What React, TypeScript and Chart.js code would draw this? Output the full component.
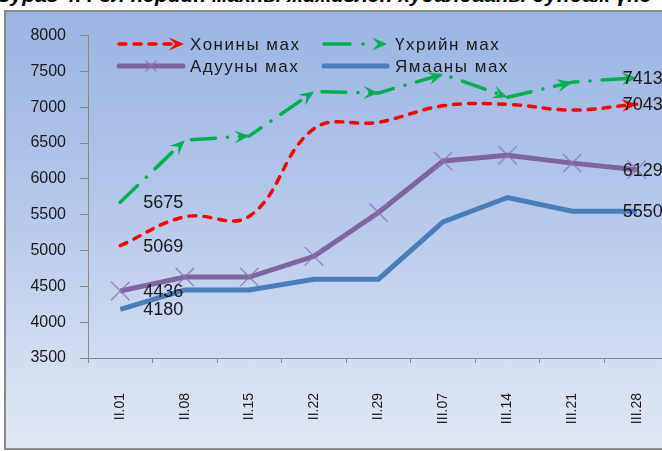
import React, { useEffect, useRef } from "react";
import { Chart, registerables } from "chart.js";

Chart.register(...registerables);

const categories = ["II.01", "II.08", "II.15", "II.22", "II.29", "III.07", "III.14", "III.21", "III.28"];
const muttonPrices = [5069, 5470, 5480, 6700, 6790, 7020, 7040, 6960, 7043];
const beefPrices = [5675, 6540, 6600, 7220, 7200, 7460, 7140, 7350, 7413];
const horsePrices = [4436, 4630, 4630, 4920, 5530, 6250, 6330, 6220, 6129];
const goatPrices = [4180, 4450, 4450, 4600, 4600, 5400, 5740, 5550, 5550];
const seriesNames = ["Хонины мах", "Үхрийн мах", "Адууны мах", "Ямааны мах"];
const yMin = 3500;
const yMax = 8000;
const yStep = 500;
const titleText = "Зураг 4. Гол нэрийн махны жижиглэн худалдааны дундаж үнэ";

const RED = "#ff0000";
const GREEN = "#00b050";
const PURPLE = "#8064a2";
const BLUE = "#4a7ebb";
const FONT = '"Liberation Sans", Arial, sans-serif';
const TEXT = "#1a1a1a";

function arrowHead(ctx: CanvasRenderingContext2D, x: number, y: number, ang: number, len: number, half: number, color: string) {
  ctx.save();
  ctx.translate(x, y);
  ctx.rotate(ang);
  ctx.beginPath();
  ctx.moveTo(0, 0);
  ctx.lineTo(-len, -half);
  ctx.lineTo(-len * 0.6, 0);
  ctx.lineTo(-len, half);
  ctx.closePath();
  ctx.fillStyle = color;
  ctx.fill();
  ctx.restore();
}

function drawCross(ctx: CanvasRenderingContext2D, x: number, y: number, r: number, color: string) {
  ctx.save();
  ctx.strokeStyle = color;
  ctx.lineWidth = 1.5;
  ctx.beginPath();
  ctx.moveTo(x - r, y - r);
  ctx.lineTo(x + r, y + r);
  ctx.moveTo(x - r, y + r);
  ctx.lineTo(x + r, y - r);
  ctx.stroke();
  ctx.restore();
}

const overlayPlugin = {
  id: "overlay",
  afterDatasetsDraw(chart: any) {
    const ctx: CanvasRenderingContext2D = chart.ctx;
    const redPts = chart.getDatasetMeta(0).data;
    const last = redPts[redPts.length - 1];
    let px = last.cp1x, py = last.cp1y;
    if (px === undefined || (Math.abs(px - last.x) < 0.5 && Math.abs(py - last.y) < 0.5)) {
      px = redPts[redPts.length - 2].x;
      py = redPts[redPts.length - 2].y;
    }
    arrowHead(ctx, last.x, last.y, Math.atan2(last.y - py, last.x - px), 15, 6.5, RED);
    const gPts = chart.getDatasetMeta(1).data;
    for (let i = 1; i < gPts.length; i++) {
      const a = gPts[i - 1], b = gPts[i];
      arrowHead(ctx, b.x, b.y, Math.atan2(b.y - a.y, b.x - a.x), 15, 6.5, GREEN);
    }
    ctx.save();
    ctx.font = `18px ${FONT}`;
    ctx.fillStyle = TEXT;
    ctx.textBaseline = "middle";
    ctx.textAlign = "left";
    for (let d = 0; d < 4; d++) {
      const pts = chart.getDatasetMeta(d).data;
      const vals = chart.data.datasets[d].data;
      const f = pts[0];
      const l = pts[pts.length - 1];
      ctx.fillText(String(vals[0]), f.x + 23, f.y + 1);
      ctx.fillText(String(vals[vals.length - 1]), l.x - 14, l.y + 1);
    }
    ctx.restore();
  },
  afterDraw(chart: any) {
    const ctx: CanvasRenderingContext2D = chart.ctx;
    ctx.save();
    const r1 = 32, r2 = 54;
    ctx.strokeStyle = RED;
    ctx.lineWidth = 3.5;
    ctx.lineCap = "round";
    ctx.setLineDash([7, 8]);
    ctx.beginPath();
    ctx.moveTo(113, r1);
    ctx.lineTo(168, r1);
    ctx.stroke();
    ctx.setLineDash([]);
    arrowHead(ctx, 178, r1, 0, 15, 6.5, RED);
    ctx.strokeStyle = GREEN;
    ctx.beginPath();
    ctx.moveTo(318, r1);
    ctx.lineTo(344, r1);
    ctx.stroke();
    ctx.beginPath();
    ctx.arc(357, r1, 1.8, 0, Math.PI * 2);
    ctx.fillStyle = GREEN;
    ctx.fill();
    arrowHead(ctx, 381, r1, 0, 15, 6.5, GREEN);
    ctx.strokeStyle = PURPLE;
    ctx.lineWidth = 5;
    ctx.beginPath();
    ctx.moveTo(113, r2);
    ctx.lineTo(177, r2);
    ctx.stroke();
    drawCross(ctx, 145, r2, 5, "rgba(140,115,175,0.8)");
    ctx.strokeStyle = BLUE;
    ctx.lineWidth = 5;
    ctx.beginPath();
    ctx.moveTo(318, r2);
    ctx.lineTo(381, r2);
    ctx.stroke();
    ctx.font = `17px ${FONT}`;
    (ctx as any).letterSpacing = "1.5px";
    ctx.fillStyle = TEXT;
    ctx.textBaseline = "middle";
    ctx.textAlign = "left";
    ctx.fillText(seriesNames[0], 184, r1 + 1);
    ctx.fillText(seriesNames[1], 389, r1 + 1);
    ctx.fillText(seriesNames[2], 184, r2 + 1);
    ctx.fillText(seriesNames[3], 389, r2 + 1);
    ctx.restore();
  },
};

export default function App() {
  const canvasRef = useRef<HTMLCanvasElement | null>(null);

  useEffect(() => {
    if (!canvasRef.current) return;
    const chart = new Chart(canvasRef.current, {
      type: "line",
      data: {
        labels: categories,
        datasets: [
          {
            label: seriesNames[0],
            data: muttonPrices,
            borderColor: RED,
            borderWidth: 3.5,
            borderDash: [7, 8],
            borderCapStyle: "round",
            tension: 0.4,
            pointRadius: 0,
            fill: false,
          },
          {
            label: seriesNames[1],
            data: beefPrices,
            borderColor: GREEN,
            borderWidth: 3.5,
            borderDash: [24, 12, 0.1, 12],
            borderCapStyle: "round",
            tension: 0,
            pointRadius: 0,
            fill: false,
          },
          {
            label: seriesNames[2],
            data: horsePrices,
            borderColor: PURPLE,
            borderWidth: 5,
            tension: 0,
            pointStyle: "crossRot",
            pointRadius: 13,
            pointBorderColor: "rgba(140,115,175,0.75)",
            pointBackgroundColor: "rgba(0,0,0,0)",
            pointBorderWidth: 1.5,
            fill: false,
          },
          {
            label: seriesNames[3],
            data: goatPrices,
            borderColor: BLUE,
            borderWidth: 5,
            tension: 0,
            pointRadius: 0,
            fill: false,
          },
        ],
      },
      options: {
        responsive: false,
        animation: false,
        devicePixelRatio: 1,
        layout: { padding: { top: 13, right: 37, left: 0, bottom: 0 } },
        plugins: { legend: { display: false }, tooltip: { enabled: false } },
        scales: {
          x: {
            type: "category",
            offset: true,
            grid: { offset: true, drawOnChartArea: false, drawTicks: true, tickLength: 5, color: "#888888" },
            border: { color: "#888888", width: 1 },
            ticks: {
              minRotation: 90,
              maxRotation: 90,
              autoSkip: false,
              padding: 30,
              color: TEXT,
              font: { family: FONT, size: 14 },
            },
            afterFit: (s: any) => {
              s.height = 90;
            },
          },
          y: {
            min: yMin,
            max: yMax,
            ticks: {
              stepSize: yStep,
              padding: 14,
              color: TEXT,
              font: { family: FONT, size: 16 },
              callback: (v: any) => String(v),
            },
            grid: { drawOnChartArea: false, drawTicks: true, tickLength: 8, color: "#888888" },
            border: { color: "#888888", width: 1 },
            afterFit: (s: any) => {
              s.width = 82;
            },
          },
        },
      } as any,
      plugins: [overlayPlugin as any],
    });
    return () => chart.destroy();
  }, []);

  return (
    <div
      style={{
        position: "fixed",
        left: 0,
        top: 0,
        width: 662,
        height: 451,
        overflow: "hidden",
        background: "#ffffff",
      }}
    >
      <div
        style={{
          position: "absolute",
          left: -3,
          top: -16,
          font: `bold italic 21px ${FONT}`,
          lineHeight: "21px",
          whiteSpace: "nowrap",
          color: "#000",
        }}
      >
        {titleText}
      </div>
      <div
        style={{
          position: "absolute",
          left: 4,
          top: 10,
          width: 700,
          height: 436,
          border: "2px solid #8a8a8a",
          background: "linear-gradient(to bottom, #9ab4e2 0%, #b5c8eb 45%, #d2ddf1 80%, #e1e8f4 100%)",
        }}
      >
        <canvas ref={canvasRef} width={700} height={436} style={{ display: "block" }} />
      </div>
    </div>
  );
}
